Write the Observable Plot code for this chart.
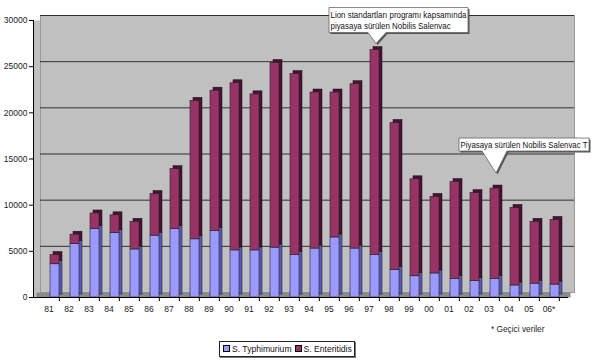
<!DOCTYPE html>
<html>
<head>
<meta charset="utf-8">
<script src="https://cdn.jsdelivr.net/npm/d3@7"></script>
<script src="https://cdn.jsdelivr.net/npm/@observablehq/plot@0.6"></script>
<style>
  body { margin: 0; background: #fff; }
  #wrap { position: relative; width: 600px; height: 363px; font-family: "Liberation Sans", Arial, sans-serif; }
  #legend { position: absolute; left: 219px; top: 341px; width: 134px; height: 14px; border: 1px solid #222;
            box-shadow: 1px 1px 0 #777; background: #fff; font-size: 8.6px; line-height: 14px; white-space: nowrap; color: #111; }
  #legend span.sw { display: inline-block; width: 5px; height: 5px; border: 1px solid #000; margin: 0 2px 0 3px; vertical-align: 0px; }
  #note { position: absolute; left: 491px; top: 324px; font-size: 8.3px; color: #222; }
  #over { position: absolute; left: 0; top: 0; pointer-events: none; }
</style>
</head>
<body>
<div id="wrap"></div>
<script>
const years = ["81","82","83","84","85","86","87","88","89","90","91","92","93","94","95","96","97","98","99","00","01","02","03","04","05","06*"];
const typhimurium = [3600,5800,7400,7000,5200,6700,7400,6300,7200,5100,5100,5400,4600,5300,6500,5300,4600,3000,2300,2600,2000,1800,2000,1300,1500,1400];
const enteritidis = [1000,1000,1700,1900,3000,4500,6500,15000,15200,18100,16900,20000,19600,16900,15700,17800,22200,15900,10500,8300,10500,9500,9800,8400,6700,7000];
const seriesNames = ["S. Typhimurium","S. Enteritidis"];
const seriesColors = ["#9999FF","#993366"];
const sideColors = ["#5a5ab8","#4a1232"];
const yTicks = [0,5000,10000,15000,20000,25000,30000];
const callout1 = {year: "97", lines: ["Lion standartları programı kapsamında", "piyasaya sürülen Nobilis Salenvac"]};
const callout2 = {year: "03", lines: ["Piyasaya sürülen Nobilis Salenvac T"]};
const footnote = "* Geçici veriler";

const rows = [];
years.forEach((y, i) => {
  rows.push({year: y, series: seriesNames[0], value: typhimurium[i], order: 0});
  rows.push({year: y, series: seriesNames[1], value: enteritidis[i], order: 1});
});

const chart = Plot.plot({
  width: 600,
  height: 363,
  marginTop: 20,
  marginBottom: 66,
  marginLeft: 29,
  marginRight: 33,
  style: {fontFamily: "Liberation Sans, Arial, sans-serif", fontSize: "9px", color: "#222", background: "#fff"},
  x: {domain: years, padding: 0.56, label: null},
  y: {domain: [0, 30000], label: null},
  color: {domain: seriesNames, range: seriesColors},
  marks: [
    Plot.frame({fill: "#C0C0C0", insetLeft: 4}),
    Plot.frame({fill: "#C0C0C0", stroke: "#999", insetLeft: 4, dx: 7, dy: -5}),
    Plot.gridY(yTicks.filter(d => d > 0), {stroke: "#222", strokeOpacity: 0.9, insetLeft: 4, dx: 7, dy: -5}),
    Plot.ruleY([0], {stroke: "#8a8a8a", strokeWidth: 5, dy: -2.5, dx: 3.5, insetLeft: 4}),
    Plot.barY(rows, Plot.stackY({x: "year", y: "value", order: "order", fill: d => sideColors[d.order], stroke: "#111", strokeWidth: 0.5, dx: 9, dy: -3})),
    Plot.barY(rows, Plot.stackY({x: "year", y: "value", order: "order", fill: "series", stroke: "#222", strokeWidth: 0.6, dx: 6})),
    Plot.frame({anchor: "left", insetLeft: 4, stroke: "#000"}),
    Plot.frame({anchor: "bottom", insetLeft: 4, stroke: "#000"}),
    Plot.axisY({ticks: yTicks, tickFormat: d => String(d), tickSize: 4, tickPadding: 2, dx: 4, stroke: "#000", fill: "#222", fontSize: 8.5, label: null}),
    Plot.axisX({tickSize: 4, tickFormat: () => "", dx: 10.35, stroke: "#000", label: null}),
    Plot.axisX({tickSize: 0, tickPadding: 8, fill: "#222", fontSize: 8.5, label: null})
  ]
});

const wrap = document.getElementById("wrap");
wrap.appendChild(chart);

const xs = chart.scale("x"), ys = chart.scale("y");
const bw = xs.bandwidth;
function total(year) { const i = years.indexOf(year); return typhimurium[i] + enteritidis[i]; }
function barTip(year) { return {x: xs.apply(year) + bw / 2 + 6 + 1.5, y: ys.apply(total(year))}; }

const svgNS = "http://www.w3.org/2000/svg";
const over = document.createElementNS(svgNS, "svg");
over.setAttribute("id", "over");
over.setAttribute("width", 600);
over.setAttribute("height", 363);
wrap.appendChild(over);

function callout(c, tipDy, boxLeftOff, boxW, boxH, boxGap, baseL, baseR) {
  const t = barTip(c.year);
  const tx = t.x, ty = t.y - tipDy;
  const left = tx + boxLeftOff, right = left + boxW;
  const bottom = ty - boxGap, top = bottom - boxH;
  const d = `M${left},${top}H${right}V${bottom}H${tx + baseR}L${tx},${ty}L${tx + baseL},${bottom}H${left}Z`;
  const sh = document.createElementNS(svgNS, "path");
  sh.setAttribute("d", d);
  sh.setAttribute("transform", "translate(1.5,1.5)");
  sh.setAttribute("fill", "#555");
  over.appendChild(sh);
  const p = document.createElementNS(svgNS, "path");
  p.setAttribute("d", d);
  p.setAttribute("fill", "#fff");
  p.setAttribute("stroke", "#666");
  p.setAttribute("stroke-width", "0.8");
  over.appendChild(p);
  const texts = c.lines.map((ln, i) => {
    const el = document.createElementNS(svgNS, "text");
    el.setAttribute("x", left + 1.5);
    el.setAttribute("y", top + 10 + i * 11);
    el.setAttribute("font-family", "Liberation Sans, Arial, sans-serif");
    el.setAttribute("font-size", "8.6");
    el.setAttribute("fill", "#111");
    el.textContent = ln;
    over.appendChild(el);
    return el;
  });
  const widths = texts.map(el => el.getComputedTextLength());
  const k = (boxW - 3) / Math.max(...widths);
  texts.forEach((el, i) => {
    el.setAttribute("textLength", widths[i] * k);
    el.setAttribute("lengthAdjust", "spacingAndGlyphs");
  });
}
callout(callout1, 6, -47, 139, 25, 11, -8, 10);
callout(callout2, 15, -37, 130, 13, 22, -14, 11);

const lg = document.createElement("div");
lg.id = "legend";
lg.innerHTML = seriesNames.map((n, i) => `<span class="sw" style="background:${seriesColors[i]}"></span>${n}`).join("");
wrap.appendChild(lg);

const note = document.createElement("div");
note.id = "note";
note.textContent = footnote;
wrap.appendChild(note);
</script>
</body>
</html>
